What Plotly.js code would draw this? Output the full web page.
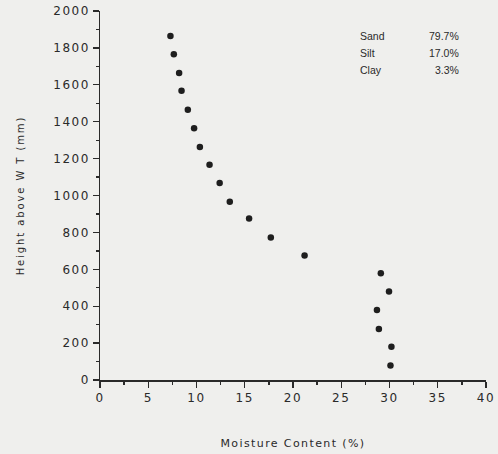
<!DOCTYPE html>
<html>
<head>
<meta charset="utf-8">
<script src="https://cdn.plot.ly/plotly-3.0.1.min.js"></script>
<style>
html,body{margin:0;padding:0;background:#efefed;}
#chart .xtitle{letter-spacing:1.4px;}
#chart .ytitle{letter-spacing:1.9px;}
#chart .xtick text,#chart .ytick text{letter-spacing:1.6px;}
</style>
</head>
<body>
<div id="chart" style="width:498px;height:454px;"></div>
<script>
// Moisture content (%) vs height above water table (mm)
var moisture = [30.1, 30.2, 28.9, 28.7, 29.95, 29.1, 21.2, 17.7, 15.45, 13.45, 12.4, 11.35, 10.35, 9.75, 9.1, 8.45, 8.2, 7.65, 7.3];
var height   = [78, 180, 276, 379, 480, 578, 675, 773, 875, 966, 1068, 1167, 1263, 1364, 1465, 1568, 1664, 1765, 1864];
var soilNames = ["Sand", "Silt", "Clay"];
var soilPct   = ["79.7%", "17.0%", "3.3%"];
var xTicks = [0, 5, 10, 15, 20, 25, 30, 35, 40];
var yTicks = [0, 200, 400, 600, 800, 1000, 1200, 1400, 1600, 1800, 2000];

var ink = '#2a2a2a';
var fnt = 'DejaVu Sans, Liberation Sans, Arial, sans-serif';

var annotations = [];
for (var i = 0; i < soilNames.length; i++) {
  annotations.push({xref:'paper', yref:'paper', x:0.668, y:0.931 - i*0.046, xanchor:'left', yanchor:'middle',
    text: soilNames[i], showarrow:false, font:{family:'Liberation Sans, Arial, sans-serif', size:10.5, color:ink}});
  annotations.push({xref:'paper', yref:'paper', x:0.935, y:0.931 - i*0.046, xanchor:'right', yanchor:'middle',
    text: soilPct[i], showarrow:false, font:{family:'Liberation Sans, Arial, sans-serif', size:10.5, color:ink}});
}

Plotly.newPlot('chart', [{
  x: moisture, y: height, type:'scatter', mode:'markers',
  marker:{size:6.5, color:'#1e1e1e'}
}], {
  width:498, height:454,
  margin:{l:100, r:12, t:11, b:74},
  paper_bgcolor:'#efefed', plot_bgcolor:'#efefed',
  showlegend:false,
  font:{family:fnt, color:ink},
  xaxis:{range:[0,40], tickvals:xTicks, ticks:'outside', ticklen:6, tickwidth:1.3, tickcolor:ink,
    showline:true, linecolor:ink, linewidth:1.5, showgrid:false, zeroline:false,
    tickfont:{family:fnt, size:12, color:ink},
    minor:{dtick:2.5, ticks:'outside', ticklen:3, tickcolor:ink, showgrid:false},
    title:{text:'Moisture Content (%)', font:{family:fnt, size:11, color:ink}, standoff:35}},
  yaxis:{range:[0,2000], tickvals:yTicks, ticks:'outside', ticklen:6, tickwidth:1.3, tickcolor:ink,
    showline:true, linecolor:ink, linewidth:1.5, showgrid:false, zeroline:false,
    tickfont:{family:fnt, size:12, color:ink},
    minor:{dtick:100, ticks:'outside', ticklen:3, tickcolor:ink, showgrid:false},
    title:{text:'Height above W T (mm)', font:{family:fnt, size:10, color:ink}, standoff:33}},
  annotations: annotations
}, {displayModeBar:false, staticPlot:true});
</script>
</body>
</html>
